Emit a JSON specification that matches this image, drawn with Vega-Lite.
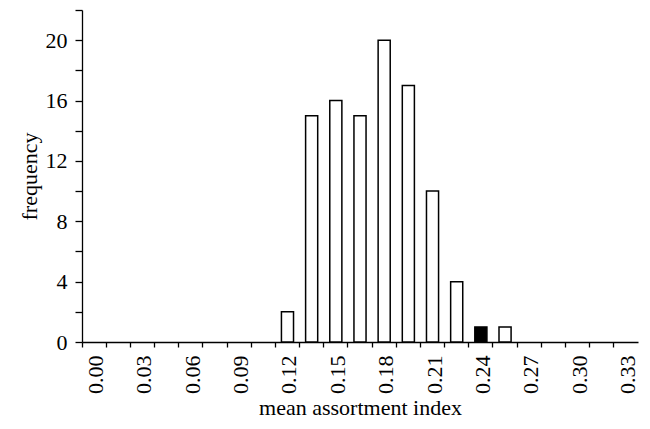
{
  "$schema": "https://vega.github.io/schema/vega-lite/v6.json",
  "autosize": "none",
  "width": 556,
  "height": 332,
  "padding": {"left": 82, "top": 10, "right": 12, "bottom": 77},
  "background": "white",
  "config": {
    "font": "Liberation Serif",
    "view": {"stroke": null},
    "axis": {"domainColor": "black", "tickColor": "black", "labelColor": "black", "titleColor": "black", "grid": false, "domainWidth": 1.3, "tickWidth": 1.3}
  },
  "data": {
    "values": [
      {"x": 0.0, "freq": 0, "kind": "sim"},
      {"x": 0.015, "freq": 0, "kind": "sim"},
      {"x": 0.03, "freq": 0, "kind": "sim"},
      {"x": 0.045, "freq": 0, "kind": "sim"},
      {"x": 0.06, "freq": 0, "kind": "sim"},
      {"x": 0.075, "freq": 0, "kind": "sim"},
      {"x": 0.09, "freq": 0, "kind": "sim"},
      {"x": 0.105, "freq": 0, "kind": "sim"},
      {"x": 0.12, "freq": 2, "kind": "sim"},
      {"x": 0.135, "freq": 15, "kind": "sim"},
      {"x": 0.15, "freq": 16, "kind": "sim"},
      {"x": 0.165, "freq": 15, "kind": "sim"},
      {"x": 0.18, "freq": 20, "kind": "sim"},
      {"x": 0.195, "freq": 17, "kind": "sim"},
      {"x": 0.21, "freq": 10, "kind": "sim"},
      {"x": 0.225, "freq": 4, "kind": "sim"},
      {"x": 0.24, "freq": 1, "kind": "obs"},
      {"x": 0.255, "freq": 1, "kind": "sim"},
      {"x": 0.27, "freq": 0, "kind": "sim"},
      {"x": 0.285, "freq": 0, "kind": "sim"},
      {"x": 0.3, "freq": 0, "kind": "sim"},
      {"x": 0.315, "freq": 0, "kind": "sim"},
      {"x": 0.33, "freq": 0, "kind": "sim"}
    ]
  },
  "mark": {"type": "bar", "stroke": "black", "strokeWidth": 1.5, "width": {"band": 0.5}},
  "encoding": {
    "x": {
      "field": "x",
      "type": "ordinal",
      "scale": {"paddingInner": 0, "paddingOuter": 0},
      "axis": {
        "title": "mean assortment index",
        "labelAngle": -90,
        "bandPosition": 0,
        "labelOffset": 2,
        "tickSize": 5,
        "labelPadding": 8,
        "titlePadding": 4,
        "labelFont": "Liberation Serif",
        "labelFontSize": 22,
        "titleFont": "Liberation Serif",
        "titleFontSize": 22,
        "titleFontWeight": "normal",
        "labelExpr": "round(datum.value*1000) % 30 == 0 ? format(datum.value, '.2f') : ''"
      }
    },
    "y": {
      "field": "freq",
      "type": "quantitative",
      "scale": {"domain": [0, 22], "nice": false},
      "axis": {
        "title": "frequency",
        "values": [0, 2, 4, 6, 8, 10, 12, 14, 16, 18, 20, 22],
        "labelExpr": "datum.value % 4 == 0 ? datum.label : ''",
        "tickSize": 7,
        "labelPadding": 8,
        "titlePadding": 4,
        "labelFont": "Liberation Serif",
        "labelFontSize": 22,
        "titleFont": "Liberation Serif",
        "titleFontSize": 22,
        "titleFontWeight": "normal"
      }
    },
    "fill": {
      "field": "kind",
      "type": "nominal",
      "scale": {"domain": ["sim", "obs"], "range": ["white", "black"]},
      "legend": null
    },
    "strokeOpacity": {"condition": {"test": "datum.freq == 0", "value": 0}, "value": 1}
  }
}
